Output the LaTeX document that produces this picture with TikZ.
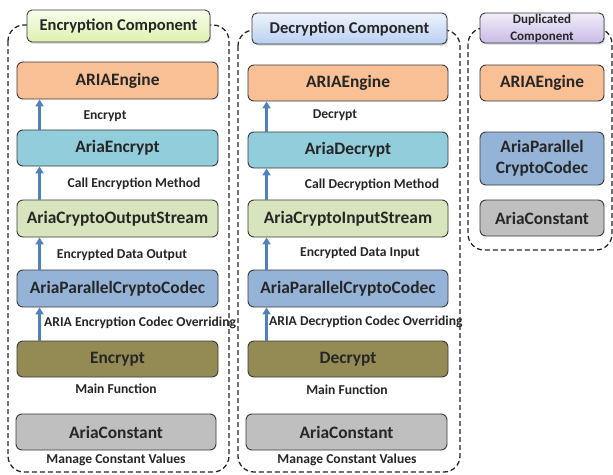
\documentclass[tikz,border=0pt]{standalone}
\usepackage{fontspec}
\setmainfont{Carlito}
\usetikzlibrary{arrows.meta,calc,shadows}
\definecolor{engineorange}{HTML}{F9C096}
\definecolor{encaqua}{HTML}{92CDDC}
\definecolor{streamgreen}{HTML}{D7E4BD}
\definecolor{codecblue}{HTML}{95B3D7}
\definecolor{mainolive}{HTML}{948A54}
\definecolor{constgray}{HTML}{BFBFBF}
\definecolor{arrowblue}{HTML}{4F81BD}
\definecolor{edgegray}{HTML}{3A3A3A}
\definecolor{titlegreenA}{HTML}{F8FDEB}
\definecolor{titlegreenB}{HTML}{DDF2B0}
\definecolor{titleblueA}{HTML}{EEF3FC}
\definecolor{titleblueB}{HTML}{B9D0F2}
\definecolor{titlepurpleA}{HTML}{F1EDF8}
\definecolor{titlepurpleB}{HTML}{C9BBE6}
\tikzset{
  compbox/.style={draw=edgegray, line width=0.9pt, rounded corners=6pt,
    minimum width=201pt, minimum height=37pt, inner sep=0pt,
    font=\fontsize{17.4}{20}\selectfont\bfseries, text=black!85},
  narrowbox/.style={compbox, minimum width=124pt},
  titlebox/.style={draw=edgegray, line width=0.9pt, rounded corners=5pt,
    inner sep=0pt, font=\fontsize{16.5}{19}\selectfont\bfseries, text=black!85,
    drop shadow={shadow xshift=1pt, shadow yshift=-1.5pt, opacity=0.35}},
  container/.style={draw=black!85, line width=1.3pt, dash pattern=on 5pt off 3pt,
    rounded corners=16pt},
  flow/.style={arrowblue, line width=2.6pt, -{Triangle[length=7pt,width=8pt]}},
  note/.style={font=\fontsize{13.6}{15}\selectfont\bfseries, text=black!85, inner sep=0pt},
}
\begin{document}
\begin{tikzpicture}[x=1pt,y=-1pt]
\useasboundingbox (0,0) rectangle (613,474);

% dashed component frames
\draw[container] (8,25) rectangle (229,472);
\draw[container] (238,30) rectangle (460,472);
\draw[container] (468,28) rectangle (612,250);

% frame titles
\node[titlebox, minimum width=183pt, minimum height=32pt,
  top color=titlegreenA, bottom color=titlegreenB] (eTitle) at (118.5,26) {Encryption Component};
\node[titlebox, minimum width=195pt, minimum height=31pt,
  top color=titleblueA, bottom color=titleblueB] (dTitle) at (349.5,28.5) {Decryption Component};
\node[titlebox, minimum width=124pt, minimum height=30pt, align=center,
  font=\fontsize{13}{17}\selectfont\bfseries,
  top color=titlepurpleA, bottom color=titlepurpleB] (rTitle) at (542,28) {Duplicated\\Component};

% encryption side
\node[compbox, fill=engineorange] (eEng)   at (117.5,80.5)  {ARIAEngine};
\node[compbox, fill=encaqua, minimum height=36pt] (eEnc) at (117.5,148) {AriaEncrypt};
\node[compbox, fill=streamgreen] (eOut)    at (117.5,218.5) {AriaCryptoOutputStream};
\node[compbox, fill=codecblue] (eCod)      at (117.5,288.5) {AriaParallelCryptoCodec};
\node[compbox, fill=mainolive, minimum height=36pt] (eMain) at (117.5,359) {Encrypt};
\node[compbox, fill=constgray, minimum width=200pt, minimum height=36pt] (eConst) at (116,432) {AriaConstant};

\draw[flow] ([xshift=23pt]eEnc.north west)  -- ([xshift=23pt]eEng.south west);
\draw[flow] ([xshift=23pt]eOut.north west)  -- ([xshift=23pt]eEnc.south west);
\draw[flow] ([xshift=23pt]eCod.north west)  -- ([xshift=23pt]eOut.south west);
\draw[flow] ([xshift=23pt]eMain.north west) -- ([xshift=23pt]eCod.south west);

\node[note] (eL1) at (105,116) {Encrypt};
\node[note] (eL2) at (134,184) {Call Encryption Method};
\node[note] (eL3) at (122,255) {Encrypted Data Output};
\node[note, anchor=west] (eL4) at (44,323) {ARIA Encryption Codec Overriding};
\node[note] (eL5) at (116,389) {Main Function};
\node[note] (eL6) at (116,460) {Manage Constant Values};

% decryption side
\node[compbox, fill=engineorange, minimum width=200pt, minimum height=36pt] (dEng) at (348,83) {ARIAEngine};
\node[compbox, fill=encaqua, minimum width=200pt, minimum height=36pt] (dDec) at (348,150) {AriaDecrypt};
\node[compbox, fill=streamgreen, minimum width=200pt] (dIn) at (348,218.5) {AriaCryptoInputStream};
\node[compbox, fill=codecblue, minimum width=200pt] (dCod) at (348,288.5) {AriaParallelCryptoCodec};
\node[compbox, fill=mainolive, minimum width=200pt, minimum height=36pt] (dMain) at (348,359) {Decrypt};
\node[compbox, fill=constgray, minimum width=201pt, minimum height=36pt] (dConst) at (346.5,432) {AriaConstant};

\draw[flow] ([xshift=19pt]dDec.north west)  -- ([xshift=19pt]dEng.south west);
\draw[flow] ([xshift=19pt]dIn.north west)   -- ([xshift=19pt]dDec.south west);
\draw[flow] ([xshift=19pt]dCod.north west)  -- ([xshift=19pt]dIn.south west);
\draw[flow] ([xshift=19pt]dMain.north west) -- ([xshift=19pt]dCod.south west);

\node[note] (dL1) at (335,115) {Decrypt};
\node[note] (dL2) at (372,185) {Call Decryption Method};
\node[note] (dL3) at (360,253) {Encrypted Data Input};
\node[note, anchor=west] (dL4) at (269,322) {ARIA Decryption Codec Overriding};
\node[note] (dL5) at (347,390) {Main Function};
\node[note] (dL6) at (347,460) {Manage Constant Values};

% duplicated parts
\node[narrowbox, fill=engineorange, minimum height=36pt] (rEng) at (542,83) {ARIAEngine};
\node[narrowbox, fill=codecblue, minimum height=53pt, align=center,
  font=\fontsize{17.4}{21}\selectfont\bfseries] (rCod) at (542,158.5) {AriaParallel\\CryptoCodec};
\node[narrowbox, fill=constgray, minimum height=36pt] (rConst) at (542,218) {AriaConstant};
\end{tikzpicture}
\end{document}
